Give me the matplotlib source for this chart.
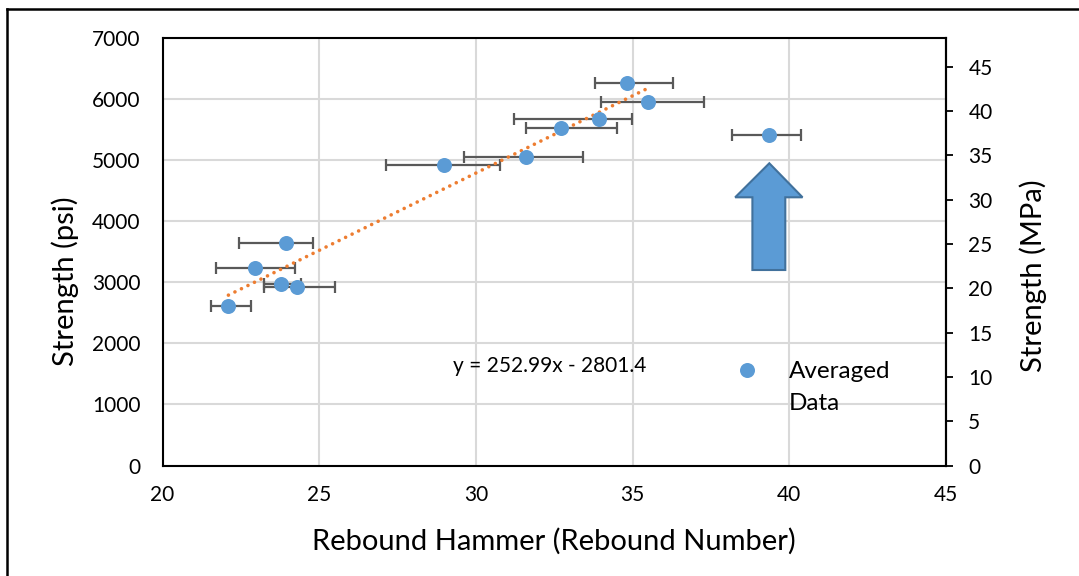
import matplotlib
matplotlib.use("Agg")
import matplotlib.pyplot as plt
import numpy as np
from matplotlib.patches import Polygon

plt.rcParams['font.family'] = ['Lato', 'DejaVu Sans']

# Data
rebound = [22.10, 22.96, 23.93, 23.79, 24.28, 28.97, 31.61, 32.72, 33.93, 34.83, 35.48, 39.36]
strength_psi = [2617, 3229, 3638, 2967, 2918, 4925, 5046, 5520, 5668, 6262, 5946, 5416]
err_low = [21.54, 21.71, 22.43, 23.23, 23.23, 27.13, 29.61, 31.61, 31.22, 33.81, 33.99, 38.18]
err_high = [22.82, 24.22, 24.81, 24.42, 25.51, 30.77, 33.40, 34.49, 34.99, 36.29, 37.29, 40.38]
n_fit = 11  # last point excluded from trendline
slope, intercept = 252.99, -2801.4
psi_per_mpa = 145.038
legend_label = ['Averaged', 'Data']

x = np.array(rebound)
y = np.array(strength_psi)
xerr = np.array([x - np.array(err_low), np.array(err_high) - x])

fig = plt.figure(figsize=(10.79, 5.76), dpi=100)
ax = fig.add_axes([0.1507, 0.1917, 0.7261, 0.7425])

ax.grid(True, color='#D9D9D9', linewidth=1.5, zorder=0)
ax.set_axisbelow(True)

ax.errorbar(x, y, xerr=xerr, fmt='none', ecolor='#595959', elinewidth=1.6,
            capsize=4.5, capthick=1.6, zorder=2)

xf = np.array([x[:n_fit].min(), x[:n_fit].max()])
ax.plot(xf, slope * xf + intercept, linestyle=(0, (0.01, 2.0)), color='#ED7D31',
        linewidth=2.6, dash_capstyle='round', zorder=3)

ax.plot(x, y, 'o', color='#5B9BD5', markersize=10.8, markeredgewidth=0, zorder=4)

# Arrow pointing at the outlier
arrow_x = x[-1]
arrow_pts = [(38.82, 3201), (39.87, 3201), (39.87, 4391), (40.42, 4391),
             (arrow_x, 4948), (38.27, 4391), (38.82, 4391)]
ax.add_patch(Polygon(arrow_pts, closed=True, facecolor='#5B9BD5',
                     edgecolor='#41719C', linewidth=1.5, zorder=5))

ax.set_xlim(20, 45)
ax.set_ylim(0, 7000)
ax.set_xticks(np.arange(20, 46, 5))
ax.set_yticks(np.arange(0, 7001, 1000))
ax.tick_params(axis='both', length=0, labelsize=15)
ax.tick_params(axis='x', pad=14)
ax.tick_params(axis='y', pad=16)
for s in ax.spines.values():
    s.set_color('black')
    s.set_linewidth(1.5)

ax.set_xlabel('Rebound Hammer (Rebound Number)', fontsize=21, va='center')
ax.xaxis.set_label_coords(0.499, -0.176)
ax.set_ylabel('Strength (psi)', fontsize=21, va='center')
ax.yaxis.set_label_coords(-0.1246, 0.43)

ax2 = ax.twinx()
ax2.set_ylim(0, 7000 / psi_per_mpa)
ax2.set_yticks(np.arange(0, 46, 5))
ax2.tick_params(axis='y', length=5, width=1.3, labelsize=15, pad=11, direction='out')
ax2.set_ylabel('Strength (MPa)', fontsize=21, va='center')
ax2.yaxis.set_label_coords(1.111, 0.443)
for s in ax2.spines.values():
    s.set_visible(False)
ax2.spines['right'].set_visible(True)
ax2.spines['right'].set_linewidth(1.5)

ax.text(0.371, 0.233, 'y = 252.99x - 2801.4', transform=ax.transAxes,
        fontsize=15, ha='left', va='center')

# Legend (Excel-style: marker aligned with the first line)
ax.plot([0.746], [0.2235], 'o', color='#5B9BD5', markersize=10.8, markeredgewidth=0,
        transform=ax.transAxes, clip_on=False, zorder=6)
ax.text(0.7995, 0.2048, legend_label[0], transform=ax.transAxes, fontsize=17.5,
        ha='left', va='baseline', zorder=6)
ax.text(0.7995, 0.130, legend_label[1], transform=ax.transAxes, fontsize=17.5,
        ha='left', va='baseline', zorder=6)

# figure border (top and left visible)
fig.add_artist(plt.Line2D([7/1079, 1.0], [1 - 9/576, 1 - 9/576], color='black',
                          linewidth=1.8, transform=fig.transFigure))
fig.add_artist(plt.Line2D([7/1079, 7/1079], [0.0, 1 - 9/576], color='black',
                          linewidth=1.8, transform=fig.transFigure))

fig.savefig('out.png', dpi=100)
